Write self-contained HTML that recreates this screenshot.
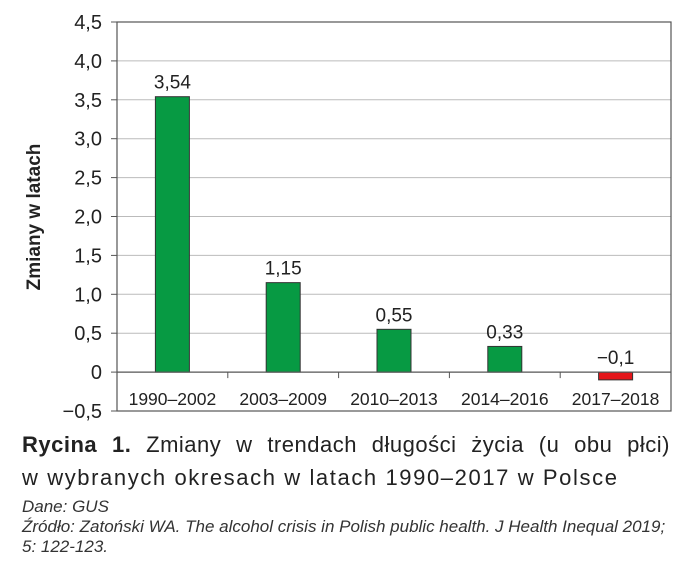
<!DOCTYPE html>
<html><head><meta charset="utf-8"><style>
body{margin:0;background:#fff;width:700px;height:584px;overflow:hidden;font-family:"Liberation Sans",sans-serif;color:#222}
.cap{position:absolute;left:22px;width:648px;font-size:22px;line-height:33px;letter-spacing:1.6px}
.l1{text-align:justify;text-align-last:justify;white-space:nowrap;letter-spacing:0.5px}
.src{position:absolute;left:22px;font-size:17px;font-style:italic;color:#333;line-height:20px;white-space:nowrap}
</style></head><body>
<svg width="700" height="430" style="position:absolute;left:0;top:0" id="svg"></svg>
<div class="cap" style="top:428px"><div class="l1"><b>Rycina 1.</b> Zmiany w trendach długości życia (u obu płci)</div><div>w wybranych okresach w latach 1990–2017 w Polsce</div></div>
<div class="src" style="top:497px">Dane: GUS<br>Źródło: Zatoński WA. The alcohol crisis in Polish public health. J Health Inequal 2019;<br>5: 122-123.</div>
<script>
const categories=["1990–2002","2003–2009","2010–2013","2014–2016","2017–2018"];
const values=[3.54,1.15,0.55,0.33,-0.1];
const valueLabels=["3,54","1,15","0,55","0,33","−0,1"];
const ticks=[4.5,4.0,3.5,3.0,2.5,2.0,1.5,1.0,0.5,0,-0.5];
const tickLabels=["4,5","4,0","3,5","3,0","2,5","2,0","1,5","1,0","0,5","0","−0,5"];
const svg=document.getElementById('svg'),NS="http://www.w3.org/2000/svg";
const L=117,R=671,T=22,B=411,ymin=-0.5,ymax=4.5;
const y=v=>B-(v-ymin)/(ymax-ymin)*(B-T);
const bw=(R-L)/categories.length;
const x=i=>L+bw*(i+0.5);
function mk(t,a,txt){const e=document.createElementNS(NS,t);for(const k in a)e.setAttribute(k,a[k]);if(txt!==undefined)e.textContent=txt;svg.appendChild(e);return e;}
ticks.forEach((t,i)=>{
 if(t!==ymax&&t!==ymin&&t!==0){const g=mk('line',{x1:L,x2:R,y1:y(t),y2:y(t),stroke:'#bbb','stroke-width':1});
 
 }
 const tk=mk('line',{x1:L-6,x2:L,y1:y(t),y2:y(t),stroke:'#555'});
 
 
 const lb=mk('text',{x:102,y:y(t)+7,'text-anchor':'end','font-size':20,fill:'#222'},tickLabels[i]);
 
 
});
const fr=mk('rect',{x:L,y:T,width:R-L,height:B-T,fill:'none',stroke:'#555','stroke-width':1.2});


values.forEach((v,i)=>{
 const y0=y(0),yv=y(v);
 const r=mk('rect',{x:x(i)-17,y:Math.min(y0,yv),width:34,height:Math.abs(y0-yv),fill:v<0?'#e3151a':'#079a43',stroke:'#333','stroke-width':1});
 
 
 const t=mk('text',{x:x(i),y:Math.min(y0,yv)-8,'text-anchor':'middle','font-size':19,fill:'#222'},valueLabels[i]);
 
 
 const c=mk('text',{x:x(i),y:405,'text-anchor':'middle','font-size':17.5,fill:'#222'},categories[i]);
 
 
});
const zl=mk('line',{x1:L,x2:R,y1:y(0),y2:y(0),stroke:'#555','stroke-width':1.2});


for(let i=1;i<categories.length;i++){const k=mk('line',{x1:L+bw*i,x2:L+bw*i,y1:y(0),y2:y(0)+6,stroke:'#555'});

}
const yt=mk('text',{x:0,y:0,transform:'translate(40,217) rotate(-90)','text-anchor':'middle','font-size':19,'font-weight':'bold',fill:'#222'},'Zmiany w latach');


</script>
</body></html>
